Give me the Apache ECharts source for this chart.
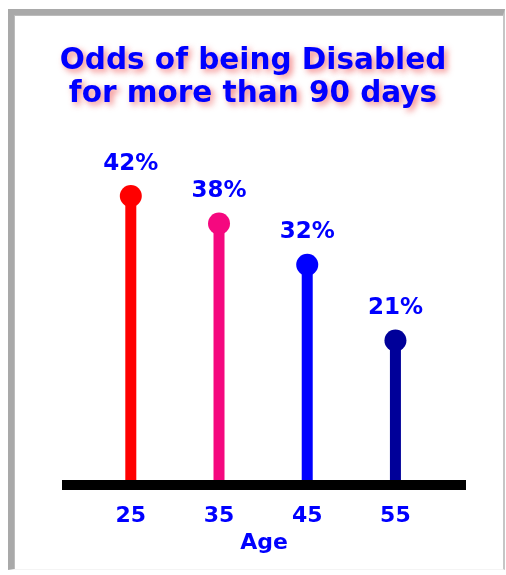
<!DOCTYPE html>
<html>
<head>
<meta charset="utf-8">
<script src="https://cdn.jsdelivr.net/npm/echarts@6/dist/echarts.min.js"></script>
<style>
  html, body { margin: 0; padding: 0; background: #ffffff; }
  #frame {
    position: absolute; left: 8px; top: 9px; width: 489px; height: 554px;
    border-top: 6px solid #a9a9a9; border-left: 6px solid #a9a9a9;
    border-right: 2px solid #c6c6c6; border-bottom: 1px solid #f4f4f4;
    box-shadow: inset 1px 1px 0 #bcbcbc;
    background: #ffffff;
  }
  #chart { position: absolute; left: 0; top: 0; width: 506px; height: 575px; }
</style>
</head>
<body>
<div id="frame"></div>
<div id="chart"></div>
<script>
// Age groups and the odds of a disability lasting more than 90 days
const ages = [25, 35, 45, 55];
const odds = [42, 38, 32, 21];
const stemColors = ['#ff0000', '#f5087f', '#0000ff', '#000099'];
const ageTicks = [25, 35, 45, 55];

const FONT = 'DejaVu Sans';
const BLUE = '#0000ff';

const points = ages.map((a, i) => ({
  value: [a, odds[i]],
  itemStyle: { color: stemColors[i], opacity: 1 }
}));

const chart = echarts.init(document.getElementById('chart'), null, { renderer: 'canvas' });

chart.setOption({
  backgroundColor: 'transparent',
  animation: false,
  title: {
    text: 'Odds of being Disabled\nfor more than 90 days',
    left: 'center',
    top: 40,
    padding: [5, 0, 5, 10],
    textStyle: {
      fontFamily: FONT,
      fontWeight: 'bold',
      fontSize: 29.5,
      lineHeight: 33,
      color: BLUE,
      textShadowColor: 'rgba(235, 50, 50, 0.6)',
      textShadowBlur: 6,
      textShadowOffsetX: 3,
      textShadowOffsetY: 3
    }
  },
  grid: { left: 62, right: 40, top: 141, bottom: 90 },
  xAxis: {
    type: 'value',
    min: 17.2,
    max: 63,
    z: 5,
    name: 'Age',
    nameLocation: 'middle',
    nameGap: 45,
    nameTextStyle: { fontFamily: FONT, fontWeight: 'bold', fontSize: 22, color: BLUE },
    axisLine: { show: true, onZero: false, lineStyle: { color: '#000000', width: 10, cap: 'butt' } },
    axisTick: { show: false },
    splitLine: { show: false },
    axisLabel: {
      customValues: ageTicks,
      margin: 20,
      fontFamily: FONT,
      fontWeight: 'bold',
      fontSize: 22,
      color: BLUE
    }
  },
  yAxis: {
    type: 'value',
    min: 0,
    max: 50,
    show: false,
    splitLine: { show: false }
  },
  series: [
    {
      name: 'stem',
      type: 'bar',
      barWidth: 11,
      data: points,
      z: 2
    },
    {
      name: 'odds',
      type: 'scatter',
      symbol: 'circle',
      symbolSize: 22,
      data: points,
      z: 3,
      itemStyle: { opacity: 1 },
      label: {
        show: true,
        position: 'top',
        distance: 10,
        formatter: p => p.value[1] + '%',
        fontFamily: FONT,
        fontWeight: 'bold',
        fontSize: 23,
        color: BLUE,
        opacity: 1
      }
    }
  ]
});
</script>
</body>
</html>
